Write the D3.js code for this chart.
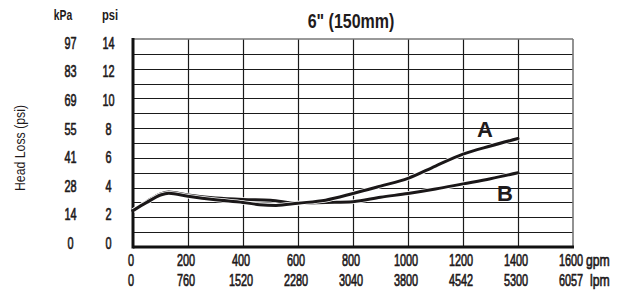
<!DOCTYPE html>
<html lang="en">
<head>
<meta charset="UTF-8">
<title>Head loss 6in</title>
<style>
  body { margin: 0; padding: 0; background: #fff; }
  svg text { font-family: "Liberation Sans", Arial, sans-serif; fill: #1f1b1c; }
  .num { stroke: #1f1b1c; stroke-width: 0.7px; }
</style>
</head>
<body>
<div id="chart"></div>
<script src="https://cdn.jsdelivr.net/npm/d3@7"></script>
<script>
// flow ticks (gpm) and matching lpm labels
const gpmTicks = [0, 200, 400, 600, 800, 1000, 1200, 1400, 1600]
const lpmLabels = ["0", "760", "1520", "2280", "3040", "3800", "4542", "5300", "6057"]

// head loss ticks (psi) and matching kPa labels
const psiTicks = [0, 2, 4, 6, 8, 10, 12, 14]
const kpaLabels = ["0", "14", "28", "41", "55", "69", "83", "97"]

// curve A
const gpmA = [0, 50, 100, 130, 200, 300, 400, 460, 520, 600, 700, 800, 900, 1000, 1100, 1200, 1300, 1400]
const psiA = [2.45, 3.0, 3.5, 3.62, 3.42, 3.18, 3.0, 2.85, 2.8, 2.95, 3.15, 3.6, 4.1, 4.62, 5.45, 6.25, 6.8, 7.3]

// curve B
const gpmB = [0, 50, 100, 130, 200, 300, 400, 500, 600, 700, 800, 900, 1000, 1100, 1200, 1300, 1400]
const psiB = [2.45, 3.05, 3.58, 3.7, 3.5, 3.3, 3.2, 3.15, 2.95, 3.0, 3.05, 3.35, 3.6, 3.9, 4.25, 4.6, 5.0]

const w = 617
const h = 296

const pLeft = 133, pRight = 573, pTop = 39, pBottom = 247

const x = d3.scaleLinear().domain([0, 1600]).range([pLeft, pRight])
const y = d3.scaleLinear().domain([0, 14]).range([pBottom, pTop])
// the printed psi / kPa labels sit a bit inside the grid
const yLab = d3.scaleLinear().domain([0, 14]).range([243, 42.5])

const svg = d3.select("#chart").append("svg")
    .attr("width", w)
    .attr("height", h)

// condensed look: squeeze text sideways around its anchor
function squeeze(sel, px, py, sx) {
    sel.attr("transform", (d, i) => {
        const tx = typeof px === "function" ? px(d, i) : px
        const ty = typeof py === "function" ? py(d, i) : py
        return `translate(${tx},${ty}) scale(${sx},1)`
    })
}

// grid
svg.append("g")
    .selectAll("line")
    .data(d3.range(1, 14))
    .join("line")
    .attr("x1", pLeft).attr("x2", pRight)
    .attr("y1", d => Math.round(y(d)) + 0.5).attr("y2", d => Math.round(y(d)) + 0.5)
    .attr("stroke", "#1a1a1a").attr("stroke-width", 1.2)

svg.append("g")
    .selectAll("line")
    .data(gpmTicks.slice(1, -1))
    .join("line")
    .attr("x1", d => Math.round(x(d)) + 0.5).attr("x2", d => Math.round(x(d)) + 0.5)
    .attr("y1", pTop).attr("y2", pBottom)
    .attr("stroke", "#1a1a1a").attr("stroke-width", 1.2)

// frame: thin grey top/right, heavy left/bottom
svg.append("line").attr("x1", pLeft).attr("x2", pRight).attr("y1", pTop).attr("y2", pTop)
    .attr("stroke", "#777").attr("stroke-width", 1.6)
svg.append("line").attr("x1", pRight).attr("x2", pRight).attr("y1", pTop).attr("y2", pBottom)
    .attr("stroke", "#777").attr("stroke-width", 1.6)
svg.append("line").attr("x1", pLeft).attr("x2", pLeft).attr("y1", pTop - 1).attr("y2", pBottom + 1.5)
    .attr("stroke", "#111").attr("stroke-width", 3)
svg.append("line").attr("x1", pLeft).attr("x2", pRight + 1).attr("y1", pBottom).attr("y2", pBottom)
    .attr("stroke", "#111").attr("stroke-width", 3)

// curves
const line = d3.line()
    .x(d => x(d[0]))
    .y(d => y(d[1]))
    .curve(d3.curveMonotoneX)

const seriesA = gpmA.map((g, i) => [g, psiA[i]])
const seriesB = gpmB.map((g, i) => [g, psiB[i]])

;[seriesB, seriesA].forEach(s => {
    svg.append("path").datum(s).attr("d", line)
        .attr("fill", "none").attr("stroke", "#fff").attr("stroke-width", 4.6)
    svg.append("path").datum(s).attr("d", line)
        .attr("fill", "none").attr("stroke", "#1a1718").attr("stroke-width", 3)
        .attr("stroke-linecap", "round")
})

// curve names
svg.append("text").attr("x", 485).attr("y", 137).attr("text-anchor", "middle")
    .style("font-weight", "bold").style("font-size", "22px").text("A")
svg.append("text").attr("x", 505).attr("y", 201).attr("text-anchor", "middle")
    .style("font-weight", "bold").style("font-size", "22px").text("B")

// left labels
svg.append("g")
    .selectAll("text")
    .data(psiTicks)
    .join("text")
    .attr("class", "num")
    .attr("dy", "0.36em").attr("text-anchor", "middle")
    .style("font-size", "17px")
    .text(d => d)
    .call(squeeze, 108.5, d => yLab(d), 0.64)

svg.append("g")
    .selectAll("text")
    .data(psiTicks)
    .join("text")
    .attr("class", "num")
    .attr("dy", "0.36em").attr("text-anchor", "middle")
    .style("font-size", "17px")
    .text((d, i) => kpaLabels[i])
    .call(squeeze, 70.5, d => yLab(d), 0.64)

svg.append("text").attr("text-anchor", "middle")
    .style("font-weight", "bold").style("font-size", "14px").text("kPa")
    .call(squeeze, 63, 20, 0.74)
svg.append("text").attr("text-anchor", "middle")
    .style("font-weight", "bold").style("font-size", "14px").text("psi")
    .call(squeeze, 110, 20, 0.8)

svg.append("text")
    .attr("transform", "translate(25,148) rotate(-90) scale(0.82,1)")
    .attr("text-anchor", "middle")
    .style("font-size", "15px")
    .text("Head Loss (psi)")

// bottom labels
svg.append("g")
    .selectAll("text")
    .data(gpmTicks)
    .join("text")
    .attr("class", "num")
    .attr("text-anchor", "middle")
    .style("font-size", "17px")
    .text(d => d)
    .call(squeeze, d => x(d) - 2, 266, 0.64)

svg.append("g")
    .selectAll("text")
    .data(gpmTicks)
    .join("text")
    .attr("class", "num")
    .attr("text-anchor", "middle")
    .style("font-size", "17px")
    .text((d, i) => lpmLabels[i])
    .call(squeeze, d => x(d) - 2, 286, 0.64)

svg.append("text").attr("class", "num").style("font-size", "17px").text("gpm").call(squeeze, 586, 266, 0.72)
svg.append("text").attr("class", "num").style("font-size", "17px").text("lpm").call(squeeze, 590, 286, 0.72)

// title
svg.append("text").attr("text-anchor", "middle")
    .style("font-weight", "bold").style("font-size", "20px").text('6" (150mm)')
    .call(squeeze, 351, 28, 0.8)
</script>
</body>
</html>
